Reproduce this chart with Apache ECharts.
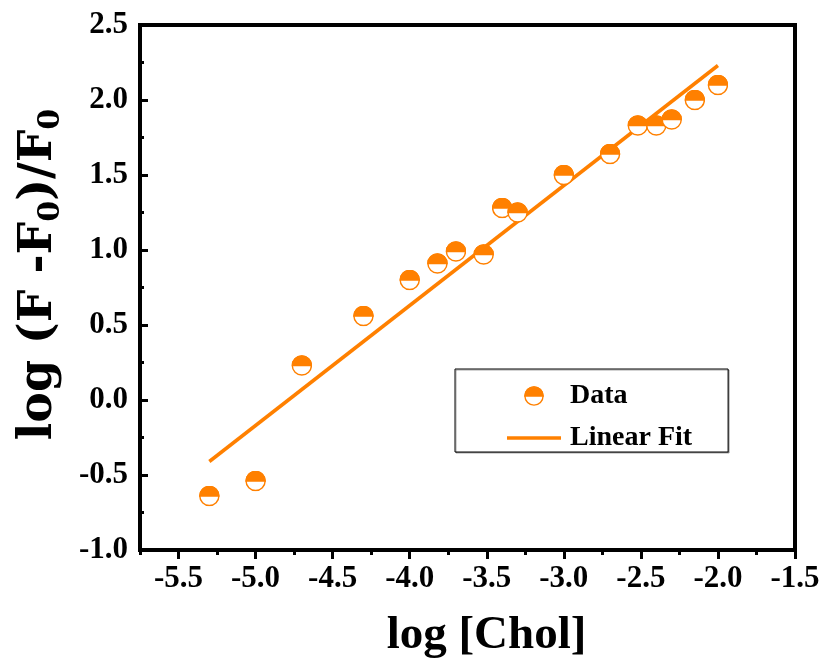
<!DOCTYPE html>
<html>
<head>
<meta charset="utf-8">
<script src="https://cdn.jsdelivr.net/npm/echarts@6/dist/echarts.min.js"></script>
<style>
  html, body { margin: 0; padding: 0; background: #fff; }
  #chart { width: 824px; height: 664px; }
</style>
</head>
<body>
<div id="chart"></div>
<script>
// Measured points: log of cholesterol concentration vs. log relative fluorescence change
const logChol = [-5.3, -5.0, -4.7, -4.3, -4.0, -3.82, -3.7, -3.52, -3.4, -3.3, -3.0, -2.7, -2.52, -2.4, -2.3, -2.15, -2.0];
const logResponse = [-0.64, -0.54, 0.23, 0.56, 0.80, 0.91, 0.99, 0.97, 1.28, 1.25, 1.50, 1.64, 1.83, 1.83, 1.87, 2.00, 2.10];

// End points of the fitted straight line
const fitX = [-5.3, -2.0];
const fitY = [-0.41, 2.23];

// Axis tick positions
const xMajorTicks = [-5.5, -5.0, -4.5, -4.0, -3.5, -3.0, -2.5, -2.0, -1.5];
const xMinorTicks = [-5.75, -5.25, -4.75, -4.25, -3.75, -3.25, -2.75, -2.25, -1.75];
const yMajorTicks = [-1.0, -0.5, 0.0, 0.5, 1.0, 1.5, 2.0, 2.5];
const yMinorTicks = [-0.75, -0.25, 0.25, 0.75, 1.25, 1.75, 2.25];

const ORANGE = '#FF8000';
const FONT = 'Liberation Serif';
const WIDE_FONT = 'DejaVu Serif';

// Half-filled circle marker (top half solid, bottom half white)
const markerSvg =
  '<svg xmlns="http://www.w3.org/2000/svg" width="44" height="44" viewBox="0 0 44 44">' +
  '<circle cx="22" cy="22" r="20" fill="#ffffff" stroke="' + ORANGE + '" stroke-width="3"/>' +
  '<path d="M2,22 A20,20 0 0 1 42,22 Z" fill="' + ORANGE + '" stroke="' + ORANGE + '" stroke-width="3"/>' +
  '</svg>';
const markerSymbol = 'image://data:image/svg+xml;charset=utf-8,' + encodeURIComponent(markerSvg);

const dataPoints = logChol.map((x, i) => [x, logResponse[i]]);
const fitPoints = fitX.map((x, i) => [x, fitY[i]]);

const tickLabelStyle = {
  fontFamily: FONT,
  fontWeight: 'bold',
  fontSize: 31,
  color: '#000'
};
const tickLine = { color: '#000', width: 3 };

const X_MIN = -5.75, X_MAX = -1.5;
const Y_MIN = -1.0, Y_MAX = 2.5;

// Axes that only carry tick marks
function xTickAxis(values, len) {
  return {
    type: 'value', min: X_MIN, max: X_MAX, position: 'bottom',
    axisLine: { show: false, onZero: false },
    axisTick: { show: true, customValues: values, inside: false, length: len, lineStyle: tickLine },
    axisLabel: { show: false },
    splitLine: { show: false }
  };
}
function yTickAxis(values, len) {
  return {
    type: 'value', min: Y_MIN, max: Y_MAX, position: 'left',
    axisLine: { show: false, onZero: false },
    axisTick: { show: true, customValues: values, inside: true, length: len, lineStyle: tickLine },
    axisLabel: { show: false },
    splitLine: { show: false }
  };
}

const chart = echarts.init(document.getElementById('chart'), null, { renderer: 'canvas' });

chart.setOption({
  animation: false,
  backgroundColor: '#fff',
  grid: {
    left: 140,
    right: 29,
    top: 25,
    bottom: 114,
    outerBoundsMode: 'none',
    show: true,
    borderColor: '#000',
    borderWidth: 4,
    backgroundColor: 'transparent'
  },
  xAxis: [
    {
      type: 'value',
      min: X_MIN,
      max: X_MAX,
      position: 'bottom',
      axisLine: { show: true, onZero: false, lineStyle: { color: '#000', width: 4 } },
      axisTick: { show: false },
      axisLabel: Object.assign({
        customValues: xMajorTicks,
        margin: 13,
        formatter: v => v.toFixed(1)
      }, tickLabelStyle),
      splitLine: { show: false },
      name: 'log [Chol]',
      nameLocation: 'middle',
      nameGap: 62,
      nameTextStyle: {
        fontFamily: FONT,
        fontWeight: 'bold',
        fontSize: 47,
        color: '#000',
        padding: [0, 0, 0, 38]
      }
    },
    xTickAxis(xMajorTicks, 9),
    xTickAxis(xMinorTicks, 5)
  ],
  yAxis: [
    {
      type: 'value',
      min: Y_MIN,
      max: Y_MAX,
      position: 'left',
      axisLine: { show: true, onZero: false, lineStyle: { color: '#000', width: 4 } },
      axisTick: { show: false },
      axisLabel: Object.assign({
        customValues: yMajorTicks,
        margin: 12,
        formatter: v => v.toFixed(1)
      }, tickLabelStyle),
      splitLine: { show: false },
      name: 'log (F -F{s|0})/F{s|0}',
      nameLocation: 'middle',
      nameGap: 74,
      nameTextStyle: {
        fontFamily: WIDE_FONT,
        fontWeight: 'bold',
        fontSize: 46,
        lineHeight: 54,
        color: '#000',
        padding: [0, 0, 0, 26],
        rich: {
          s: {
            fontFamily: WIDE_FONT,
            fontWeight: 'bold',
            fontSize: 30,
            lineHeight: 22,
            verticalAlign: 'bottom',
            color: '#000'
          }
        }
      }
    },
    yTickAxis(yMajorTicks, 8),
    yTickAxis(yMinorTicks, 4)
  ],
  legend: {
    orient: 'vertical',
    left: 455,
    top: 369,
    padding: [13, 36, 0, 52],
    itemWidth: 54,
    itemHeight: 20,
    itemGap: 14,
    borderColor: '#000',
    borderWidth: 1,
    shadowColor: 'rgba(0,0,0,0.35)',
    shadowOffsetX: 1,
    shadowOffsetY: 1,
    backgroundColor: '#fff',
    textStyle: {
      fontFamily: FONT,
      fontWeight: 'bold',
      fontSize: 28,
      lineHeight: 26,
      color: '#000',
      padding: [0, 0, 0, 4]
    },
    data: [
      { name: 'Data' },
      { name: 'Linear Fit', icon: 'path://M0,0 L54,0 L54,3.5 L0,3.5 Z' }
    ]
  },
  series: [
    {
      name: 'Data',
      type: 'scatter',
      xAxisIndex: 0,
      yAxisIndex: 0,
      data: dataPoints,
      symbol: markerSymbol,
      symbolSize: 21,
      itemStyle: { color: ORANGE, opacity: 1 },
      z: 5
    },
    {
      name: 'Linear Fit',
      type: 'line',
      xAxisIndex: 0,
      yAxisIndex: 0,
      data: fitPoints,
      symbol: 'none',
      itemStyle: { color: ORANGE },
      lineStyle: { color: ORANGE, width: 3.5 },
      z: 3
    }
  ]
});
</script>
</body>
</html>
